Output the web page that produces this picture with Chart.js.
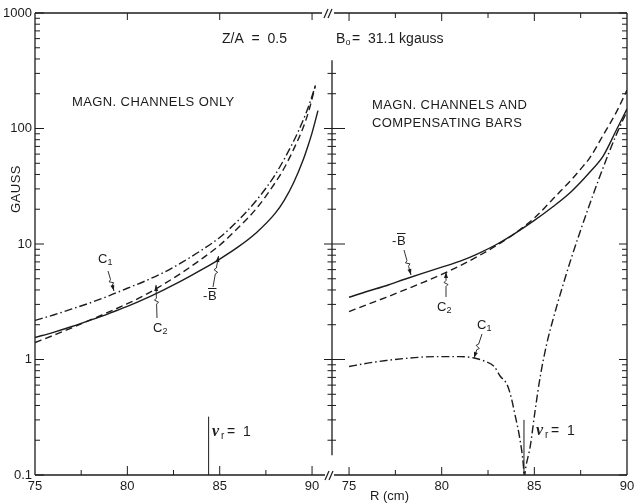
<!DOCTYPE html>
<html>
<head>
<meta charset="utf-8">
<script src="https://cdn.jsdelivr.net/npm/chart.js@4.4.1/dist/chart.umd.min.js"></script>
<style>
  html, body { margin: 0; padding: 0; background: #fff; }
  #wrap { position: relative; width: 634px; height: 504px; }
  #wrap canvas { position: absolute; left: 0; top: 0; }
</style>
</head>
<body>
<div id="wrap">
  <canvas id="leftChart" width="634" height="504"></canvas>
  <canvas id="rightChart" width="634" height="504"></canvas>
</div>
<script>
// tick labels
const ticksX = [75, 80, 85, 90];
const ticksY = [0.1, 1, 10, 100, 1000];

// left panel: magn. channels only  (R in cm, field in gauss)
const rLeftB  = [75, 76, 77, 78, 79, 80, 81, 82, 83, 84, 85, 86, 87, 88, 88.5, 89, 89.5, 89.8, 90, 90.32];
const gLeftB  = [1.55, 1.72, 1.93, 2.19, 2.5, 2.88, 3.38, 4.03, 4.86, 5.96, 7.41, 9.44, 12.6, 18.4, 24, 33.9, 52.5, 72.4, 91.6, 143];
const rLeftC2 = [75, 76, 77, 78, 79, 80, 81, 82, 83, 84, 85, 86, 87, 88, 88.5, 89, 89.5, 89.84, 90.18];
const gLeftC2 = [1.4, 1.62, 1.88, 2.2, 2.58, 3.04, 3.65, 4.52, 5.71, 7.38, 9.77, 13.8, 20.4, 33.9, 45.7, 66, 100, 145, 236];
const rLeftC1 = [75, 76, 77, 78, 79, 80, 81, 82, 83, 84, 85, 86, 87, 88, 89, 89.5, 89.84, 90.2];
const gLeftC1 = [2.18, 2.43, 2.74, 3.1, 3.56, 4.14, 4.81, 5.71, 7.0, 8.81, 11.4, 16.0, 24.0, 39.8, 77.6, 116, 160, 240];

// right panel: magn. channels and compensating bars
const rRightB  = [75, 76, 77, 78, 79, 80, 81, 82, 83, 84, 85, 86, 87, 88, 88.72, 89.44, 90];
const gRightB  = [3.46, 3.9, 4.35, 4.95, 5.6, 6.3, 7.1, 8.3, 10, 12.5, 16, 21, 28.5, 42, 58, 98, 148];
const rRightC2 = [75, 76, 77, 78, 79, 80, 81, 82, 83, 84, 85, 85.67, 86, 87, 87.47, 88, 88.72, 89.44, 90];
const gRightC2 = [2.6, 3.0, 3.45, 4.0, 4.65, 5.45, 6.5, 7.9, 9.8, 12.5, 16.8, 21.5, 24.5, 36, 44, 56, 88, 140, 215];
const rRightC1 = [75, 76, 77, 78, 79, 80, 81, 81.75, 82.3, 82.83, 83.15, 83.54, 83.75, 83.96, 84.23, 84.41, 84.45,
                  84.55, 84.77, 85.04, 85.31, 85.67, 86.03, 86.5, 87, 87.5, 88, 88.5, 89, 89.5, 90];
const gRightC1 = [0.87, 0.93, 0.98, 1.02, 1.05, 1.06, 1.06, 1.03, 0.97, 0.87, 0.72, 0.6, 0.47, 0.33, 0.2, 0.12, 0.095,
                  0.12, 0.174, 0.36, 0.7, 1.37, 2.29, 4.17, 7.6, 13.2, 22.4, 37.2, 60.3, 94.4, 141];

const nuR = 84.4;

var INK = '#1c1c1c';
var FONT = '"Liberation Sans", Arial, Helvetica, sans-serif';
var DASH = [7, 4];
var DASHDOT = [8, 3, 1.5, 3];

function series(r, g, dash) {
    return {
        data: r.map(function (x, i) { return {x: x, y: g[i]}; }),
        borderColor: INK,
        borderWidth: 1.4,
        borderDash: dash,
        pointRadius: 0,
        fill: false,
        cubicInterpolationMode: 'monotone'
    };
}

function seg(ctx, x1, y1, x2, y2) {
    ctx.beginPath();
    ctx.moveTo(x1, y1);
    ctx.lineTo(x2, y2);
    ctx.stroke();
}

// all 1..9 x 10^n values inside [lo, hi]
function logTicks(lo, hi) {
    var out = [];
    for (var e = -1; e <= 3; e++) {
        for (var m = 1; m <= 9; m++) {
            var v = +(m * Math.pow(10, e)).toPrecision(3);
            if (v >= lo && v <= hi) out.push({v: v, major: m === 1});
        }
    }
    return out;
}

function txt(ctx, s, x, y, size, font) {
    ctx.font = (font || '') + ' ' + size + 'px ' + FONT;
    ctx.fillText(s, x, y);
}

function caps(ctx, s, x, y) {
    ctx.letterSpacing = '0.4px';
    txt(ctx, s, x, y, 13);
    ctx.letterSpacing = '0px';
}

function cLabel(ctx, x, y, sub) {
    txt(ctx, 'C', x, y, 13);
    txt(ctx, sub, x + 9.5, y + 4, 9);
}

function bLabel(ctx, x, y) {
    txt(ctx, '-', x, y, 13);
    txt(ctx, 'B', x + 5, y, 13);
    ctx.lineWidth = 1;
    seg(ctx, x + 5, y - 7.5, x + 13.5, y - 7.5);
}

function nuLabel(ctx, x, y) {
    ctx.font = 'bold italic 16px "Liberation Serif", "DejaVu Serif", serif';
    ctx.fillText('\u03bd', x, y);
    txt(ctx, 'r', x + 9, y + 4, 10);
    txt(ctx, '=  1', x + 15, y, 14);
}

// little zig-zag arrow as in the drawing
function arrow(ctx, x1, y1, x2, y2) {
    var dx = x2 - x1, dy = y2 - y1, L = Math.sqrt(dx * dx + dy * dy);
    var ux = dx / L, uy = dy / L, nx = -uy, ny = ux;
    var ax = x1 + ux * L * 0.42, ay = y1 + uy * L * 0.42;
    ctx.lineWidth = 0.9;
    ctx.beginPath();
    ctx.moveTo(x1, y1);
    ctx.lineTo(ax, ay);
    ctx.lineTo(ax + nx * 2 + ux * 2, ay + ny * 2 + uy * 2);
    ctx.lineTo(ax - nx * 2 + ux * 4, ay - ny * 2 + uy * 4);
    ctx.lineTo(ax + ux * 6, ay + uy * 6);
    ctx.lineTo(x2, y2);
    ctx.stroke();
    ctx.beginPath();
    ctx.moveTo(x2, y2);
    ctx.lineTo(x2 - ux * 6 + nx * 2, y2 - uy * 6 + ny * 2);
    ctx.lineTo(x2 - ux * 6 - nx * 2, y2 - uy * 6 - ny * 2);
    ctx.closePath();
    ctx.fill();
}

function breakMark(ctx, x, y) {
    ctx.lineWidth = 1.2;
    seg(ctx, x - 4, y + 5, x, y - 4);
    seg(ctx, x, y + 5, x + 4, y - 4);
}

var leftFrame = {
    id: 'leftFrame',
    afterDraw: function (chart) {
        var ctx = chart.ctx, a = chart.chartArea;
        var xs = chart.scales.x, ys = chart.scales.y;
        ctx.save();
        ctx.strokeStyle = INK;
        ctx.fillStyle = INK;
        ctx.lineWidth = 1.3;
        seg(ctx, a.left, a.top, a.left, a.bottom);
        seg(ctx, a.left, a.top, a.right + 2, a.top);
        seg(ctx, a.left, a.bottom, a.right + 5, a.bottom);
        ctx.lineWidth = 1;
        logTicks(0.1, 1000).forEach(function (t) {
            var y = ys.getPixelForValue(t.v);
            seg(ctx, a.left, y, a.left + (t.major ? 9 : 5), y);
        });
        [77.5, 80, 82.5, 85, 87.5, 90].forEach(function (v) {
            var x = xs.getPixelForValue(v);
            seg(ctx, x, a.bottom, x, a.bottom - (v % 5 === 0 ? 9 : 5));
        });
        [80, 85, 90].forEach(function (v) {
            var x = xs.getPixelForValue(v);
            seg(ctx, x, a.top, x, a.top + 7);
        });
        // nu_r = 1 marker
        var xn = xs.getPixelForValue(nuR);
        seg(ctx, xn, ys.getPixelForValue(0.32), xn, a.bottom);

        ctx.textBaseline = 'middle';
        ctx.textAlign = 'left';
        txt(ctx, 'Z/A  =  0.5', 222, 39, 14);
        caps(ctx, 'MAGN. CHANNELS ONLY', 72, 102);
        nuLabel(ctx, 212, 432);
        cLabel(ctx, 98, 259, '1');
        arrow(ctx, 108, 271, 114, 291);
        cLabel(ctx, 153, 328, '2');
        arrow(ctx, 157, 318, 156, 285);
        bLabel(ctx, 203, 296);
        arrow(ctx, 213, 287, 218.5, 256);

        ctx.save();
        ctx.translate(16, 189);
        ctx.rotate(-Math.PI / 2);
        ctx.textAlign = 'center';
        ctx.letterSpacing = '0.5px';
        txt(ctx, 'GAUSS', 0, 0, 13);
        ctx.restore();
        ctx.restore();
    }
};

var rightFrame = {
    id: 'rightFrame',
    afterDraw: function (chart) {
        var ctx = chart.ctx, a = chart.chartArea;
        var xs = chart.scales.x, ys = chart.scales.y;
        var xm = a.left;
        ctx.save();
        ctx.strokeStyle = INK;
        ctx.fillStyle = INK;
        ctx.lineWidth = 1.3;
        seg(ctx, xm + 2, a.top, a.right, a.top);
        seg(ctx, a.right, a.top, a.right, a.bottom);
        seg(ctx, xm + 2, a.bottom, a.right, a.bottom);
        // free standing axis between the panels
        seg(ctx, xm, ys.getPixelForValue(390), xm, ys.getPixelForValue(0.148));
        ctx.lineWidth = 1;
        logTicks(0.148, 390).forEach(function (t) {
            var y = ys.getPixelForValue(t.v);
            if (t.major) seg(ctx, xm - 8, y, xm + 13, y);
            else seg(ctx, xm - 4.5, y, xm + 4, y);
        });
        logTicks(0.1, 1000).forEach(function (t) {
            var y = ys.getPixelForValue(t.v);
            seg(ctx, a.right, y, a.right - (t.major ? 8 : 5), y);
        });
        [75, 77.5, 80, 82.5, 85, 87.5].forEach(function (v) {
            var x = xs.getPixelForValue(v);
            var len = v % 5 === 0 ? 8 : 5;
            seg(ctx, x, a.bottom, x, a.bottom - len);
            seg(ctx, x, a.top, x, a.top + len);
        });
        var xn = xs.getPixelForValue(nuR + 0.04);
        seg(ctx, xn, ys.getPixelForValue(0.3), xn, a.bottom);

        breakMark(ctx, 328, a.top);
        breakMark(ctx, 329, a.bottom);

        ctx.textBaseline = 'middle';
        ctx.textAlign = 'left';
        txt(ctx, 'B', 336, 39, 14);
        txt(ctx, 'o', 345.5, 43, 9);
        txt(ctx, '=  31.1 kgauss', 352, 39, 14);
        caps(ctx, 'MAGN. CHANNELS AND', 372, 105);
        caps(ctx, 'COMPENSATING BARS', 372, 123);
        txt(ctx, 'R (cm)', 370, 496, 13);
        nuLabel(ctx, 536, 431);
        bLabel(ctx, 392, 241);
        arrow(ctx, 404, 250, 411, 275);
        cLabel(ctx, 437, 307, '2');
        arrow(ctx, 446, 297, 446, 272);
        cLabel(ctx, 477, 325, '1');
        arrow(ctx, 482, 334, 474, 358);
        ctx.restore();
    }
};

function xScale(min, max) {
    return {
        type: 'linear', min: min, max: max,
        grid: {display: false, drawTicks: false},
        border: {display: false},
        ticks: {padding: 4, color: INK, font: {family: FONT, size: 13}, maxRotation: 0, autoSkip: false,
                callback: function (v) { return String(v); }},
        afterBuildTicks: function (s) { s.ticks = ticksX.map(function (v) { return {value: v}; }); },
        afterFit: function (s) { s.height = 29; s.paddingLeft = 0; s.paddingRight = 0; }
    };
}

function yScale(show) {
    return {
        type: 'logarithmic', min: 0.1, max: 1000, display: show,
        grid: {display: false, drawTicks: false},
        border: {display: false},
        ticks: {padding: 3, color: INK, font: {family: FONT, size: 13},
                callback: function (v) { return String(v); }},
        afterBuildTicks: function (s) { s.ticks = ticksY.map(function (v) { return {value: v}; }); },
        afterFit: function (s) { s.width = show ? 35 : 0; s.paddingTop = 0; s.paddingBottom = 0; }
    };
}

function baseOptions(padding, showY, xmin, xmax) {
    return {
        responsive: false,
        animation: false,
        layout: {padding: padding},
        plugins: {legend: {display: false}, tooltip: {enabled: false}},
        scales: {x: xScale(xmin, xmax), y: yScale(showY)}
    };
}

new Chart(document.getElementById('leftChart'), {
    type: 'line',
    data: {datasets: [
        series(rLeftB, gLeftB, []),
        series(rLeftC2, gLeftC2, DASH),
        series(rLeftC1, gLeftC1, DASHDOT)
    ]},
    options: baseOptions({left: 0, right: 314, top: 13, bottom: 0}, true, 75, 90.43),
    plugins: [leftFrame]
});

new Chart(document.getElementById('rightChart'), {
    type: 'line',
    data: {datasets: [
        series(rRightB, gRightB, []),
        series(rRightC2, gRightC2, DASH),
        series(rRightC1, gRightC1, DASHDOT)
    ]},
    options: baseOptions({left: 332, right: 7, top: 13, bottom: 0}, false, 74.08, 90),
    plugins: [rightFrame]
});
</script>
</body>
</html>
